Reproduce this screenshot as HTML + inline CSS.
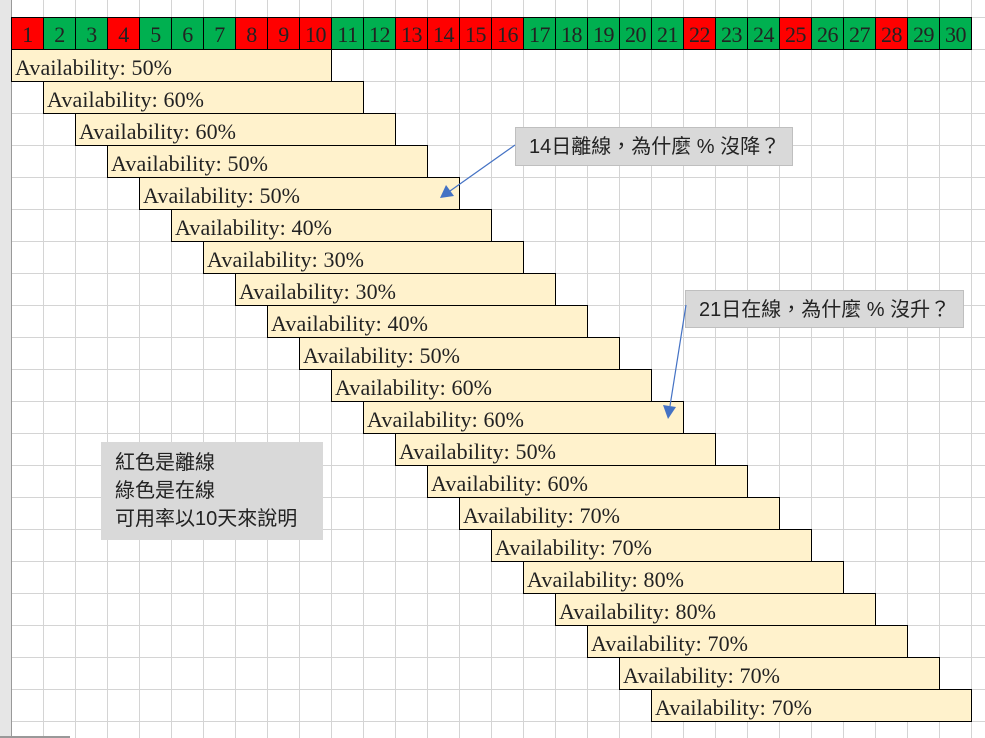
<!DOCTYPE html>
<html><head><meta charset="utf-8"><style>
body{margin:0;width:985px;height:738px;overflow:hidden;background:#fff;position:relative;font-family:"Liberation Serif",serif}
.grid{position:absolute;left:0;top:0;width:985px;height:738px;
background-image:linear-gradient(to right,#d4d4d4 1px,transparent 1px),linear-gradient(to bottom,#d4d4d4 1px,transparent 1px);
background-size:32px 32px;background-position:11px 17px}
.strip{position:absolute;left:0;top:0;width:11px;height:738px;background:#e6e6e6;border-right:1px solid #999}
.hdr{position:absolute;left:11px;top:17px;border-left:1px solid #000;border-top:1px solid #000;display:flex}
.hdr div{width:31px;height:31px;border-right:1px solid #000;border-bottom:1px solid #000;text-align:center;font-size:22px;line-height:34px;color:#222;letter-spacing:-0.5px;white-space:nowrap;overflow:visible}
.g{background:#00b050}.r{background:#ff0000}
.bar{position:absolute;width:321px;height:33px;box-sizing:border-box;border:1px solid #000;background:#fff2cc;font-size:22px;line-height:36px;padding-left:3px;color:#222;white-space:nowrap;letter-spacing:0.1px}
.box{position:absolute;background:#d9d9d9;border:1px solid #bfbfbf;box-sizing:border-box;font-family:"Liberation Sans","Noto Sans CJK TC",sans-serif;color:#222;white-space:nowrap}
</style></head><body>
<div class="grid"></div>
<div class="strip"></div>
<div style="position:absolute;left:0;top:736px;width:70px;height:2px;background:#999"></div>
<div class="hdr">
<div class="r">1</div><div class="g">2</div><div class="g">3</div><div class="r">4</div><div class="g">5</div><div class="g">6</div><div class="g">7</div><div class="r">8</div><div class="r">9</div><div class="r">10</div><div class="g">11</div><div class="g">12</div><div class="r">13</div><div class="r">14</div><div class="r">15</div><div class="r">16</div><div class="g">17</div><div class="g">18</div><div class="g">19</div><div class="g">20</div><div class="g">21</div><div class="r">22</div><div class="g">23</div><div class="g">24</div><div class="r">25</div><div class="g">26</div><div class="g">27</div><div class="r">28</div><div class="g">29</div><div class="g">30</div>
</div>
<div class="bar" style="left:11px;top:49px">Availability: 50%</div>
<div class="bar" style="left:43px;top:81px">Availability: 60%</div>
<div class="bar" style="left:75px;top:113px">Availability: 60%</div>
<div class="bar" style="left:107px;top:145px">Availability: 50%</div>
<div class="bar" style="left:139px;top:177px">Availability: 50%</div>
<div class="bar" style="left:171px;top:209px">Availability: 40%</div>
<div class="bar" style="left:203px;top:241px">Availability: 30%</div>
<div class="bar" style="left:235px;top:273px">Availability: 30%</div>
<div class="bar" style="left:267px;top:305px">Availability: 40%</div>
<div class="bar" style="left:299px;top:337px">Availability: 50%</div>
<div class="bar" style="left:331px;top:369px">Availability: 60%</div>
<div class="bar" style="left:363px;top:401px">Availability: 60%</div>
<div class="bar" style="left:395px;top:433px">Availability: 50%</div>
<div class="bar" style="left:427px;top:465px">Availability: 60%</div>
<div class="bar" style="left:459px;top:497px">Availability: 70%</div>
<div class="bar" style="left:491px;top:529px">Availability: 70%</div>
<div class="bar" style="left:523px;top:561px">Availability: 80%</div>
<div class="bar" style="left:555px;top:593px">Availability: 80%</div>
<div class="bar" style="left:587px;top:625px">Availability: 70%</div>
<div class="bar" style="left:619px;top:657px">Availability: 70%</div>
<div class="bar" style="left:651px;top:689px">Availability: 70%</div>

<div class="box" style="left:515px;top:127px;width:278px;height:39px;font-size:20px;line-height:38px;padding-left:13px">14日離線，為什麼 % 沒降？</div>
<div class="box" style="left:685px;top:290px;width:279px;height:38px;font-size:20px;line-height:38px;padding-left:13px">21日在線，為什麼 % 沒升？</div>
<div class="box" style="left:101px;top:442px;width:222px;height:98px;font-size:20px;line-height:28px;padding:7px 0 0 14px;border:none">紅色是離線<br>綠色是在線<br>可用率以10天來說明</div>

<svg style="position:absolute;left:0;top:0" width="985" height="738">
<line x1="515" y1="145" x2="450" y2="191" stroke="#4472c4" stroke-width="1.2"/>
<polygon points="440,198 446,185 454,196" fill="#4472c4"/>
<line x1="686" y1="305" x2="670" y2="406" stroke="#4472c4" stroke-width="1.2"/>
<polygon points="668,419 663,405 676,407" fill="#4472c4"/>
</svg>
</body></html>
